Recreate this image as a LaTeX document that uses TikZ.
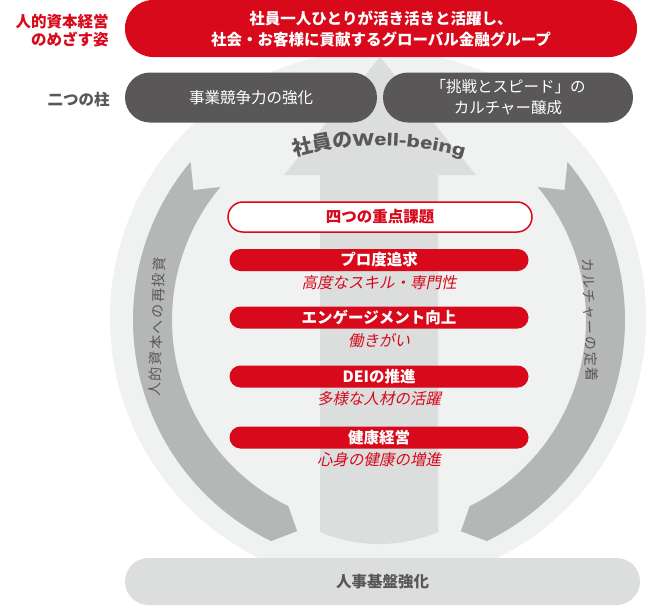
\documentclass[tikz,border=0pt]{standalone}
\usepackage{fontspec}
\setmainfont{Noto Sans CJK JP}
\newfontfamily\itjp{Noto Sans CJK JP}[FakeSlant=0.2]
\newfontfamily\sidejp{Noto Sans CJK JP}[LetterSpace=12]
\newfontfamily\wblatin{Liberation Sans Bold}[FakeStretch=1.3, FakeBold=1.2]
\usetikzlibrary{calc, positioning, decorations.text}
\definecolor{kred}{HTML}{D7091B}
\definecolor{kdark}{HTML}{595757}
\definecolor{kband}{HTML}{B5B6B6}
\definecolor{klight}{HTML}{F0F1F1}
\definecolor{kmid}{HTML}{DCDDDD}
\newcommand\wbfont{\fontsize{20pt}{20pt}\selectfont\bfseries\color{kdark}}
\newcommand\wblat{\fontsize{17pt}{17pt}\wblatin\color{kdark}}

\begin{document}
\begin{tikzpicture}[x=1pt, y=1pt, node distance=0pt,
      TXT/.style = {font=\fontsize{15.5pt}{21pt}\selectfont, inner sep=0pt, align=center},
      PILL/.style = {TXT, rectangle, rounded corners=#1},
      RB/.style = {PILL=11pt, fill=kred, text=white, minimum width=299pt,
                   minimum height=22pt, font=\fontsize{15.5pt}{21pt}\selectfont\bfseries},
      SUB/.style = {TXT, text=kred, font=\fontsize{15.5pt}{21pt}\selectfont\itjp},
      SIDE/.style = {TXT, text=kdark, font=\fontsize{14pt}{14pt}\selectfont\sidejp},
      BAND/.style = {fill=kband} ]
\useasboundingbox (0,0) rectangle (650,-608);

% background disc, central arrow, side arrows
\fill[klight] (378,-318) circle[radius=268];
\fill[kmid] (320,-175) -- (284,-175) -- (380,-57) -- (476,-175) -- (438,-175)
   -- (438,-532) .. controls (400,-548) and (358,-548) .. (320,-532) -- cycle;
\coordinate (c) at (379,-320);
\fill[BAND] ($(c)+(140:246)$) arc[start angle=140, end angle=244, radius=246]
   -- ($(c)+(248.8:226.5)$) -- ($(c)+(244:207)$)
   arc[start angle=244, end angle=140, radius=207] -- ($(c)+(145:226.5)$) -- cycle;
\fill[BAND] ($(c)+(40:246)$) arc[start angle=40, end angle=-64, radius=246]
   -- ($(c)+(-68.8:226.5)$) -- ($(c)+(-64:207)$)
   arc[start angle=-64, end angle=40, radius=207] -- ($(c)+(35:226.5)$) -- cycle;

\node (reinvest) [SIDE, rotate=88]  at (157,-327) {人的資本への再投資};
\node (culture)  [SIDE, rotate=-88] at (590,-320) {カルチャーの定着};

\coordinate (wc) at (379,-455);
\path[decorate, decoration={text along path, text align=center,
      text={|\wbfont|社員の|\wblat|Well-being}}]
   ($(wc)+(122:310)$) arc[start angle=122, end angle=58, radius=310];

% top rows
\node (goal) [PILL=28pt, fill=kred, text=white, minimum width=512pt, minimum height=57pt,
      font=\fontsize{15.5pt}{21pt}\selectfont\bfseries] at (381,-28.5)
   {社員一人ひとりが活き活きと活躍し、\\社会・お客様に貢献するグローバル金融グループ};
\node (goalL) [TXT, align=right, text=kred, left=16pt of goal, yshift=-2pt,
      font=\fontsize{15.5pt}{18pt}\selectfont\bfseries] {人的資本経営\\のめざす姿};

\node (pA) [PILL=25pt, fill=kdark, text=white, minimum width=252pt, minimum height=50pt]
   at (251,-97.5) {事業競争力の強化};
\node (pB) [PILL=25pt, fill=kdark, text=white, minimum width=250pt, minimum height=50pt]
   at (508,-97.5) {「挑戦とスピード」の\\カルチャー醸成};
\node (pL) [TXT, text=kdark, left=15pt of pA, yshift=-2pt,
      font=\fontsize{15.5pt}{21pt}\selectfont\bfseries] {二つの柱};

% four themes
\node (four) [PILL=15pt, fill=white, draw=kred, line width=1.5pt, text=kred,
      minimum width=304pt, minimum height=30pt,
      font=\fontsize{15.5pt}{21pt}\selectfont\bfseries] at (380,-217) {四つの重点課題};

\node (b1) [RB] at (379,-260)   {プロ度追求};
\node (s1) [SUB, below=4pt of b1] {高度なスキル・専門性};
\node (b2) [RB] at (379,-317.5) {エンゲージメント向上};
\node (s2) [SUB, below=4pt of b2] {働きがい};
\node (b3) [RB] at (379,-376.5) {DEIの推進};
\node (s3) [SUB, below=4pt of b3] {多様な人材の活躍};
\node (b4) [RB] at (379,-437.5) {健康経営};
\node (s4) [SUB, below=4pt of b4] {心身の健康の増進};

% base
\node (base) [PILL=23.5pt, fill=kmid, text=kdark, minimum width=515pt, minimum height=47pt,
      font=\fontsize{15.5pt}{21pt}\selectfont\bfseries] at (382.5,-581.5) {人事基盤強化};
\end{tikzpicture}
\end{document}
